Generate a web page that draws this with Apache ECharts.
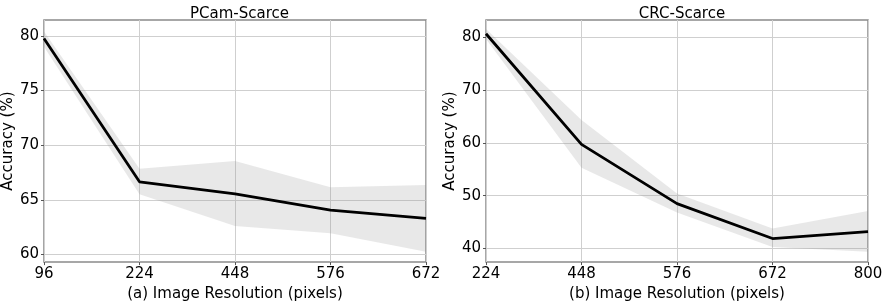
<!DOCTYPE html>
<html><head><meta charset="utf-8">
<script src="https://cdn.jsdelivr.net/npm/echarts@6/dist/echarts.min.js"></script>
<style>html,body{margin:0;padding:0;background:#fff}#c{width:886px;height:307px}</style>
</head><body><div id="c"></div>
<script>
const pcamCats = ['96','224','448','576','672'];
const pcamMean = [79.75, 66.65, 65.55, 64.05, 63.3];
const pcamLow  = [79.0, 65.5, 62.6, 61.95, 60.25];
const pcamHigh = [80.4, 67.85, 68.55, 66.15, 66.35];
const pcamTicks = [60, 65, 70, 75, 80];

const crcCats = ['224','448','576','672','800'];
const crcMean = [80.6, 59.7, 48.5, 41.9, 43.2];
const crcLow  = [79.6, 55.3, 46.8, 40.3, 39.4];
const crcHigh = [81.5, 64.3, 50.4, 43.8, 47.1];
const crcTicks = [40, 50, 60, 70, 80];

const FONT = 'DejaVu Sans';
const chart = echarts.init(document.getElementById('c'));

function xAxis(gi, cats, name) {
  return {
    type: 'category', gridIndex: gi, data: cats, boundaryGap: false,
    name: name, nameLocation: 'middle', nameGap: 21,
    nameTextStyle: {fontFamily: FONT, fontSize: 15, color: '#000'},
    axisLine: {show: false},
    axisTick: {show: true, length: 3, lineStyle: {color: '#555'}},
    axisLabel: {fontFamily: FONT, fontSize: 15, color: '#000', margin: 5},
    splitLine: {show: true, lineStyle: {color: '#cfcfcf', width: 1}}
  };
}
function yAxis(gi, min, max, ticks) {
  return {
    type: 'value', gridIndex: gi, min: min, max: max,
    name: 'Accuracy (%)', nameLocation: 'middle', nameGap: 24, nameRotate: 90,
    nameTextStyle: {fontFamily: FONT, fontSize: 15, color: '#000'},
    axisLine: {show: false},
    axisTick: {show: true, length: 3, customValues: ticks, lineStyle: {color: '#555'}},
    axisLabel: {fontFamily: FONT, fontSize: 15, color: '#000', margin: 5, customValues: ticks},
    splitLine: {show: true, lineStyle: {color: '#cfcfcf', width: 1}}
  };
}
function band(gi, low, high, mean, stackName) {
  const diff = high.map((h, i) => h - low[i]);
  return [
    {type: 'line', xAxisIndex: gi, yAxisIndex: gi, data: low, stack: stackName, symbol: 'none',
     lineStyle: {opacity: 0}, silent: true, z: 1},
    {type: 'line', xAxisIndex: gi, yAxisIndex: gi, data: diff, stack: stackName, symbol: 'none',
     lineStyle: {opacity: 0}, areaStyle: {color: 'rgba(150,150,150,0.22)', opacity: 1}, silent: true, z: 1},
    {type: 'line', xAxisIndex: gi, yAxisIndex: gi, data: mean, symbol: 'none',
     lineStyle: {color: '#000', width: 2.8}, z: 3}
  ];
}

chart.setOption({
  animation: false,
  title: [
    {text: 'PCam-Scarce', left: 234.5, top: 2, textAlign: 'center',
     textStyle: {fontFamily: FONT, fontSize: 15, fontWeight: 'normal', color: '#000'}},
    {text: 'CRC-Scarce', left: 677, top: 2, textAlign: 'center',
     textStyle: {fontFamily: FONT, fontSize: 15, fontWeight: 'normal', color: '#000'}}
  ],
  grid: [
    {left: 43, top: 20, width: 383, height: 246, show: true, borderColor: '#8a8a8a', borderWidth: 1.5, backgroundColor: 'transparent'},
    {left: 486, top: 20, width: 382, height: 246, show: true, borderColor: '#8a8a8a', borderWidth: 1.5, backgroundColor: 'transparent'}
  ],
  xAxis: [xAxis(0, pcamCats, '(a) Image Resolution (pixels)'), xAxis(1, crcCats, '(b) Image Resolution (pixels)')],
  yAxis: [yAxis(0, 59.3, 81.45, pcamTicks), yAxis(1, 37.45, 83.2, crcTicks)],
  series: [].concat(band(0, pcamLow, pcamHigh, pcamMean, 'p'), band(1, crcLow, crcHigh, crcMean, 'c'))
});
</script></body></html>
